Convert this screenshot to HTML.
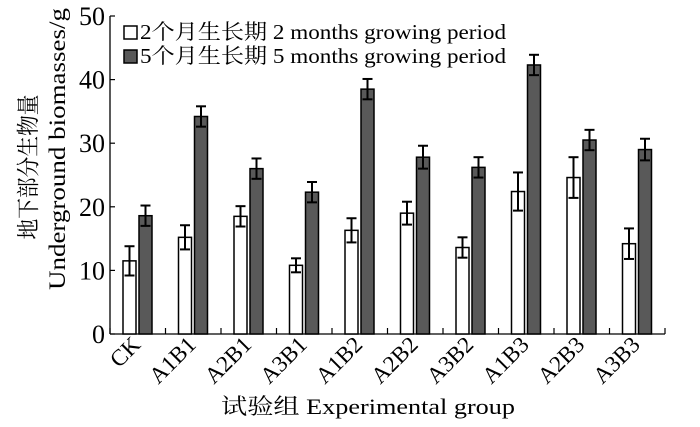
<!DOCTYPE html>
<html><head><meta charset="utf-8"><style>
body{margin:0;background:#fff}
svg{font-family:"Liberation Serif","Noto Serif CJK SC",serif}
</style></head><body>
<svg width="700" height="422">
<g id="plot"></g>
</svg>
<script>
const categories=["CK","A1B1","A2B1","A3B1","A1B2","A2B2","A3B2","A1B3","A2B3","A3B3"];
const months2=[11.5,15.2,18.5,10.8,16.3,19,13.6,22.4,24.6,14.2];
const months2Err=[2.3,1.9,1.6,1.1,1.9,1.8,1.6,3,3.2,2.4];
const months5=[18.6,34.2,26,22.3,38.5,27.8,26.2,42.3,30.5,29];
const months5Err=[1.6,1.6,1.6,1.6,1.6,1.8,1.6,1.6,1.6,1.7];
const yTicks=[0,10,20,30,40,50];
const NS="http://www.w3.org/2000/svg";
const g=document.getElementById('plot');
const X0=110,X1=665,Y0=334,Y1=16;
const gw=(X1-X0)/categories.length;
const y=v=>Y0-(v/50)*(Y0-Y1);
function el(t,a,txt){const e=document.createElementNS(NS,t);for(const k in a)e.setAttribute(k,a[k]);if(txt!==undefined)e.textContent=txt;g.appendChild(e);return e;}
let e;
e=el('line',{x1:X0,y1:Y1,x2:X0,y2:Y0,stroke:'#000','stroke-width':1.3});


e=el('line',{x1:X0,y1:Y0,x2:X1,y2:Y0,stroke:'#000','stroke-width':1.3});


yTicks.forEach(t=>{
 e=el('line',{x1:X0,y1:y(t),x2:X0+5,y2:y(t),stroke:'#000','stroke-width':1.2});
 
 
 e=el('text',{x:X0-5,y:y(t)+9,'text-anchor':'end','font-size':26},t);
 
 
});
for(let i=0;i<=categories.length;i++){
 e=el('line',{x1:X0+i*gw,y1:Y0,x2:X0+i*gw,y2:Y0-6,stroke:'#000','stroke-width':1.2});
 
 
}
function errBar(cx,v,er){
 [[cx,y(v-er),cx,y(v+er)],[cx-5,y(v+er),cx+5,y(v+er)],[cx-5,y(v-er),cx+5,y(v-er)]].forEach(c=>{
  const l=el('line',{x1:c[0],y1:c[1],x2:c[2],y2:c[3],stroke:'#000','stroke-width':2});
  
  
 });
}
categories.forEach((c,i)=>{
 const gx=X0+i*gw;
 let b=el('rect',{x:gx+13,y:y(months2[i]),width:13,height:Y0-y(months2[i]),fill:'#fff',stroke:'#000','stroke-width':1.5});
 
 
 b=el('rect',{x:gx+29,y:y(months5[i]),width:13,height:Y0-y(months5[i]),fill:'#595959',stroke:'#000','stroke-width':1.5});
 
 
 errBar(gx+19.5,months2[i],months2Err[i]);
 errBar(gx+35.5,months5[i],months5Err[i]);
 const tx=gx+gw/2+4,ty=Y0+12;
 const t=el('text',{x:tx,y:ty,'text-anchor':'end','font-size':23,transform:`rotate(-45 ${tx} ${ty})`},c);
 
 
});
e=el('text',{x:221,y:414,'font-size':22,textLength:294,lengthAdjust:'spacingAndGlyphs'},'试验组 Experimental group');


e=el('text',{x:0,y:0,'text-anchor':'middle','font-size':23,textLength:145,lengthAdjust:'spacingAndGlyphs',transform:'translate(36,167) rotate(-90)'},'地下部分生物量');


e=el('text',{x:0,y:0,'text-anchor':'middle','font-size':23,textLength:282,lengthAdjust:'spacingAndGlyphs',transform:'translate(65,149) rotate(-90)'},'Underground biomasses/g');


e=el('rect',{x:124,y:26,width:13,height:13,fill:'#fff',stroke:'#000','stroke-width':1.5});


e=el('text',{x:140,y:39,'font-size':21,textLength:366,lengthAdjust:'spacingAndGlyphs'},'2个月生长期 2 months growing period');


e=el('rect',{x:124,y:50,width:13,height:13,fill:'#595959',stroke:'#000','stroke-width':1.5});


e=el('text',{x:140,y:63,'font-size':21,textLength:366,lengthAdjust:'spacingAndGlyphs'},'5个月生长期 5 months growing period');


</script>
</body></html>
